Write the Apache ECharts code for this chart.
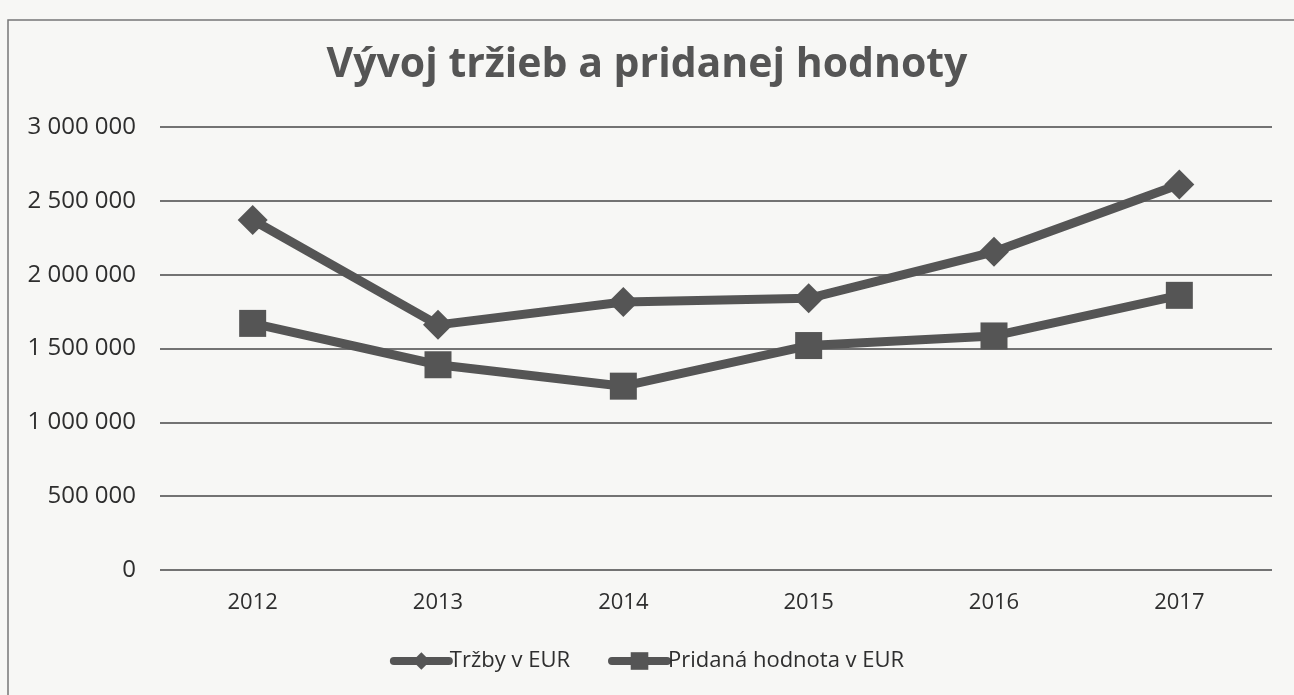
<!DOCTYPE html>
<html>
<head>
<meta charset="utf-8">
<script src="https://cdn.jsdelivr.net/npm/echarts@6/dist/echarts.min.js"></script>
<style>
  html, body { margin: 0; padding: 0; background: #f7f7f5; }
  #main { width: 1294px; height: 695px; }
</style>
</head>
<body>
<div id="main"></div>
<script>
// roky na osi X
const years = ["2012", "2013", "2014", "2015", "2016", "2017"];
// Tržby v EUR
const trzby = [2370000, 1660000, 1815000, 1840000, 2155000, 2610000];
// Pridaná hodnota v EUR
const pridana = [1670000, 1390000, 1245000, 1520000, 1585000, 1860000];

const lineColor = "#555555";
const textColor = "#2e2e2e";

const myChart = echarts.init(document.querySelector("#main"));

// čísla s medzerou ako oddeľovačom tisícov
function formatNum(v) {
  return String(v).replace(/\B(?=(\d{3})+(?!\d))/g, " ");
}

const option = {
  backgroundColor: "#f7f7f5",
  textStyle: { fontFamily: "Open Sans" },
  // rámček grafu
  graphic: [
    {
      type: "rect",
      shape: { x: 8, y: 20, width: 1300, height: 700 },
      style: { fill: "none", stroke: "#777", lineWidth: 1.5 },
      silent: true,
    },
  ],
  title: {
    text: "Vývoj tržieb a pridanej hodnoty",
    left: "center",
    top: 40,
    textStyle: {
      fontFamily: "Open Sans",
      fontSize: 41,
      fontWeight: "bold",
      color: "#555555",
    },
  },
  legend: {
    bottom: 18,
    left: "center",
    itemWidth: 55,
    itemHeight: 22,
    itemGap: 38,
    lineStyle: { width: 8, cap: "round" },
    textStyle: { fontSize: 22, color: textColor, padding: [0, 0, 0, -4] },
    data: ["Tržby v EUR", "Pridaná hodnota v EUR"],
  },
  grid: {
    left: 160,
    right: 22,
    top: 127,
    bottom: 125,
  },
  xAxis: {
    type: "category",
    data: years,
    boundaryGap: true,
    axisLine: { show: false },
    axisTick: { show: false },
    axisLabel: { fontSize: 22, color: textColor, margin: 22 },
  },
  yAxis: {
    type: "value",
    min: 0,
    max: 3000000,
    interval: 500000,
    axisLine: { show: false },
    axisTick: { show: false },
    axisLabel: {
      fontSize: 24,
      color: textColor,
      margin: 24,
      formatter: formatNum,
    },
    splitLine: { lineStyle: { color: "#737373", width: 2 } },
  },
  series: [
    {
      name: "Tržby v EUR",
      type: "line",
      data: trzby,
      symbol: "diamond",
      symbolSize: 30,
      lineStyle: { color: lineColor, width: 9 },
      itemStyle: { color: lineColor },
    },
    {
      name: "Pridaná hodnota v EUR",
      type: "line",
      data: pridana,
      symbol: "rect",
      symbolSize: 27,
      lineStyle: { color: lineColor, width: 9 },
      itemStyle: { color: lineColor },
    },
  ],
};
myChart.setOption(option);
</script>
</body>
</html>
